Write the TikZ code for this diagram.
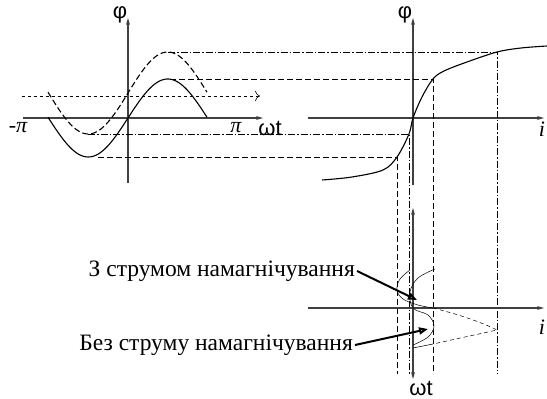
\documentclass[tikz,border=0pt]{standalone}
\usepackage{fontspec}
\setmainfont{Liberation Serif}
\newfontfamily\axisfont{Liberation Sans}
\usetikzlibrary{arrows.meta, positioning}

\begin{document}
\begin{tikzpicture}[
  x=1pt, y=-1pt,
  axis/.style={draw=black!75, line width=1.1pt, -{Stealth[length=7pt, width=4pt]}},
  axisboth/.style={axis, {Stealth[length=7pt, width=4pt]}-{Stealth[length=7pt, width=4pt]}},
  curve/.style={line width=1.1pt},
  thincurve/.style={line width=0.5pt},
  thindash/.style={line width=0.5pt, dash pattern=on 4pt off 3pt},
  proj/.style={line width=0.8pt, dash pattern=on 6pt off 3pt},
  projdot/.style={line width=0.8pt, dash pattern=on 7pt off 2pt on 1.5pt off 2pt},
  level/.style={line width=0.6pt, dash pattern=on 3pt off 3pt, -{To[length=5pt]}},
  sym/.style={font=\axisfont\fontsize{22}{24}\selectfont, inner sep=1pt},
  greek/.style={font=\itshape\fontsize{22}{24}\selectfont, inner sep=1pt},
  lbl/.style={font=\fontsize{23.5}{26}\selectfont, inner sep=2pt},
  pointer/.style={line width=2pt, -{Triangle[open, length=9pt, width=7pt]}}
]
  \useasboundingbox (0,0) rectangle (547,399);

  % flux vs time (left)
  \coordinate (lxs) at (23,118);   \coordinate (lxe) at (263,118);
  \coordinate (lyb) at (128,183);  \coordinate (lyt) at (128,18);
  \draw[axis] (lxs) -- (lxe);
  \draw[axis] (lyb) -- (lyt);
  \coordinate (lvs) at (22,96);    \coordinate (lve) at (260,96);
  \draw[level] (lvs) -- (lve);
  \draw[curve] plot[domain=48:207, samples=80]
    (\x, {118-39*sin((\x-128)/79.5*180)});
  \draw[curve, dash pattern=on 6pt off 3pt] plot[domain=48:207, samples=80]
    (\x, {93-41*sin((\x-128)/79.5*180)});
  \node[sym]   (phiL) at (120,15)  {φ};
  \node[greek] (mpi)  at (18,128)  {-π};
  \node[greek] (ppi)  at (236,128) {π};
  \node[sym]   (wtL)  at (270,128) {ωt};

  % magnetisation curve (right)
  \coordinate (rxs) at (308,118);  \coordinate (rxe) at (544,118);
  \coordinate (ryb) at (413,185);  \coordinate (ryt) at (413,18);
  \draw[axis] (rxs) -- (rxe);
  \draw[axis] (ryb) -- (ryt);
  \draw[curve] plot[smooth, tension=0.55] coordinates {
    (322,180) (352,177) (383,170) (397,157) (409,134) (413,118)
    (422,97) (433,79) (444,71) (467,62) (497,52) (521,48) (547,46)};
  \node[sym] (phiR) at (405,15) {φ};
  \node[greek] (iR) at (542,129) {i};

  % projections
  \foreach \yy/\xs/\xe/\sty in {52/168/497/projdot, 79/170/433/proj,
                                134/88/409/projdot, 157/98/397/proj}
    \draw[\sty] (\xs,\yy) -- (\xe,\yy) -- (\xe,374);

  % current vs time (bottom)
  \coordinate (bxs) at (308,308);  \coordinate (bxe) at (544,308);
  \coordinate (byt) at (413,208);  \coordinate (byb) at (413,379);
  \draw[axis] (bxs) -- (bxe);
  \draw[axisboth] (byt) -- (byb);
  \draw[thincurve] plot[smooth, tension=0.6] coordinates {
    (435,269) (418,278) (410,292) (413,308) (428,315) (434,326) (428,337) (413,345)};
  \draw[thincurve] plot[smooth, tension=0.6] coordinates {
    (410,270) (400,279) (397,290) (403,299) (418,305) (433,308)};
  \draw[thindash] (433,308) .. controls (465,316) and (485,324) .. (497,330) -- (433,344);
  \draw[thincurve] (433,344) -- (413,348);
  \node[greek] (iB)  at (542,327) {i};
  \node[sym]   (wtB) at (421,388) {ωt};

  % labels
  \node[lbl, anchor=east] (withI) at (357,271) {З струмом намагнічування};
  \node[lbl, anchor=east] (noI)   at (355,345) {Без струму намагнічування};
  \coordinate (withTip) at (417,300);
  \coordinate (noTip)   at (428,329);
  \draw[pointer] (withI.east) -- (withTip);
  \draw[pointer] (noI.east) -- (noTip);
\end{tikzpicture}
\end{document}
